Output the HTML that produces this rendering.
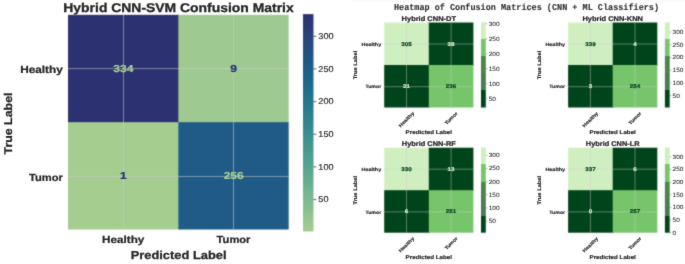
<!DOCTYPE html>
<html><head><meta charset="utf-8"><style>
html,body{margin:0;padding:0;background:#fff;width:685px;height:264px;overflow:hidden}
svg{display:block;will-change:transform;text-rendering:geometricPrecision;font-family:"Liberation Sans",sans-serif}
</style></head><body><div id="w">
<svg width="685" height="264" viewBox="0 0 685 264">
<defs><linearGradient id="crest" x1="0" y1="0" x2="0" y2="1"><stop offset="0.0000" stop-color="#2c3172"/><stop offset="0.0250" stop-color="#2c3574"/><stop offset="0.0500" stop-color="#2b3a76"/><stop offset="0.0750" stop-color="#2a3f78"/><stop offset="0.1000" stop-color="#28437b"/><stop offset="0.1250" stop-color="#27477d"/><stop offset="0.1500" stop-color="#254c80"/><stop offset="0.1750" stop-color="#235082"/><stop offset="0.2000" stop-color="#215584"/><stop offset="0.2250" stop-color="#1f5985"/><stop offset="0.2500" stop-color="#1e5d86"/><stop offset="0.2750" stop-color="#1d6288"/><stop offset="0.3000" stop-color="#1c6689"/><stop offset="0.3250" stop-color="#1d6a8a"/><stop offset="0.3500" stop-color="#1e6e8a"/><stop offset="0.3750" stop-color="#20728b"/><stop offset="0.4000" stop-color="#24768b"/><stop offset="0.4250" stop-color="#277a8c"/><stop offset="0.4500" stop-color="#2c7e8c"/><stop offset="0.4750" stop-color="#2f818d"/><stop offset="0.5000" stop-color="#33858d"/><stop offset="0.5250" stop-color="#38898e"/><stop offset="0.5500" stop-color="#3c8c8e"/><stop offset="0.5750" stop-color="#40918f"/><stop offset="0.6000" stop-color="#44948f"/><stop offset="0.6250" stop-color="#48988f"/><stop offset="0.6500" stop-color="#4d9c90"/><stop offset="0.6750" stop-color="#519f90"/><stop offset="0.7000" stop-color="#57a490"/><stop offset="0.7250" stop-color="#5ba790"/><stop offset="0.7500" stop-color="#61aa90"/><stop offset="0.7750" stop-color="#67ae90"/><stop offset="0.8000" stop-color="#6db290"/><stop offset="0.8250" stop-color="#74b690"/><stop offset="0.8500" stop-color="#7bb991"/><stop offset="0.8750" stop-color="#81bc91"/><stop offset="0.9000" stop-color="#89bf91"/><stop offset="0.9250" stop-color="#90c391"/><stop offset="0.9500" stop-color="#98c691"/><stop offset="0.9750" stop-color="#9eca91"/><stop offset="1.0000" stop-color="#a5cd90"/></linearGradient><linearGradient id="g1" x1="0" y1="0" x2="0" y2="1"><stop offset="0.0000" stop-color="#d0efc1"/><stop offset="0.2000" stop-color="#d0efc1"/><stop offset="0.2000" stop-color="#77c56b"/><stop offset="0.4000" stop-color="#77c56b"/><stop offset="0.4000" stop-color="#4c854c"/><stop offset="0.6000" stop-color="#4c854c"/><stop offset="0.6000" stop-color="#4a7a50"/><stop offset="0.8000" stop-color="#4a7a50"/><stop offset="0.8000" stop-color="#00441b"/><stop offset="1.0000" stop-color="#00441b"/></linearGradient><linearGradient id="g2" x1="0" y1="0" x2="0" y2="1"><stop offset="0.0000" stop-color="#d0efc1"/><stop offset="0.2000" stop-color="#d0efc1"/><stop offset="0.2000" stop-color="#77c56b"/><stop offset="0.4000" stop-color="#77c56b"/><stop offset="0.4000" stop-color="#4c854c"/><stop offset="0.6000" stop-color="#4c854c"/><stop offset="0.6000" stop-color="#4a7a50"/><stop offset="0.8000" stop-color="#4a7a50"/><stop offset="0.8000" stop-color="#00441b"/><stop offset="1.0000" stop-color="#00441b"/></linearGradient><linearGradient id="g3" x1="0" y1="0" x2="0" y2="1"><stop offset="0.0000" stop-color="#d0efc1"/><stop offset="0.2000" stop-color="#d0efc1"/><stop offset="0.2000" stop-color="#77c56b"/><stop offset="0.4000" stop-color="#77c56b"/><stop offset="0.4000" stop-color="#4c854c"/><stop offset="0.6000" stop-color="#4c854c"/><stop offset="0.6000" stop-color="#4a7a50"/><stop offset="0.8000" stop-color="#4a7a50"/><stop offset="0.8000" stop-color="#00441b"/><stop offset="1.0000" stop-color="#00441b"/></linearGradient><linearGradient id="g4" x1="0" y1="0" x2="0" y2="1"><stop offset="0.0000" stop-color="#d0efc1"/><stop offset="0.2000" stop-color="#d0efc1"/><stop offset="0.2000" stop-color="#77c56b"/><stop offset="0.4000" stop-color="#77c56b"/><stop offset="0.4000" stop-color="#4c854c"/><stop offset="0.6000" stop-color="#4c854c"/><stop offset="0.6000" stop-color="#4a7a50"/><stop offset="0.8000" stop-color="#4a7a50"/><stop offset="0.8000" stop-color="#00441b"/><stop offset="1.0000" stop-color="#00441b"/></linearGradient><filter id="soft" x="0" y="0" width="685" height="264" filterUnits="userSpaceOnUse" color-interpolation-filters="sRGB"><feConvolveMatrix order="3" kernelMatrix="1 4 1 4 16 4 1 4 1" divisor="36" edgeMode="duplicate"/></filter><filter id="soft2" x="0" y="0" width="685" height="264" filterUnits="userSpaceOnUse" color-interpolation-filters="sRGB"><feConvolveMatrix order="3" kernelMatrix="1 8 1 8 64 8 1 8 1" divisor="100" edgeMode="none" preserveAlpha="false"/></filter></defs>
<g filter="url(#soft)">
<rect x="0" y="0" width="685" height="264" fill="#ffffff"/>
<rect x="68.00" y="14.85" width="111.35" height="108.33" fill="#2c3172"/>
<rect x="178.35" y="14.85" width="110.35" height="108.33" fill="#9eca91"/>
<rect x="68.00" y="122.17" width="111.35" height="107.33" fill="#a5cd90"/>
<rect x="178.35" y="122.17" width="110.35" height="107.33" fill="#1f5b86"/>
<line x1="123.50" y1="14.85" x2="123.50" y2="229.50" stroke="#cccccc" stroke-width="1" stroke-opacity="0.55"/>
<line x1="233.50" y1="14.85" x2="233.50" y2="229.50" stroke="#cccccc" stroke-width="1" stroke-opacity="0.55"/>
<line x1="68.00" y1="68.60" x2="288.70" y2="68.60" stroke="#cccccc" stroke-width="1" stroke-opacity="0.55"/>
<line x1="68.00" y1="176.50" x2="288.70" y2="176.50" stroke="#cccccc" stroke-width="1" stroke-opacity="0.55"/>
<rect x="303.00" y="14.10" width="10.50" height="217.40" fill="url(#crest)"/>
<line x1="313.50" y1="199.51" x2="316.30" y2="199.51" stroke="#333333" stroke-width="0.8" stroke-opacity="1"/>
<line x1="313.50" y1="166.87" x2="316.30" y2="166.87" stroke="#333333" stroke-width="0.8" stroke-opacity="1"/>
<line x1="313.50" y1="134.22" x2="316.30" y2="134.22" stroke="#333333" stroke-width="0.8" stroke-opacity="1"/>
<line x1="313.50" y1="101.58" x2="316.30" y2="101.58" stroke="#333333" stroke-width="0.8" stroke-opacity="1"/>
<line x1="313.50" y1="68.94" x2="316.30" y2="68.94" stroke="#333333" stroke-width="0.8" stroke-opacity="1"/>
<line x1="313.50" y1="36.30" x2="316.30" y2="36.30" stroke="#333333" stroke-width="0.8" stroke-opacity="1"/>
<rect x="351.00" y="0.00" width="334.00" height="2.00" fill="#fafafa"/>
<rect x="384.20" y="22.50" width="45.60" height="43.50" fill="#d0efc1"/>
<rect x="428.80" y="22.50" width="44.60" height="43.50" fill="#00441b"/>
<rect x="384.20" y="65.00" width="45.60" height="42.50" fill="#00441b"/>
<rect x="428.80" y="65.00" width="44.60" height="42.50" fill="#77c56b"/>
<line x1="406.50" y1="22.50" x2="406.50" y2="107.50" stroke="#cccccc" stroke-width="1" stroke-opacity="0.45"/>
<line x1="451.10" y1="22.50" x2="451.10" y2="107.50" stroke="#cccccc" stroke-width="1" stroke-opacity="0.45"/>
<line x1="384.20" y1="44.00" x2="473.40" y2="44.00" stroke="#cccccc" stroke-width="1" stroke-opacity="0.45"/>
<line x1="384.20" y1="86.70" x2="473.40" y2="86.70" stroke="#cccccc" stroke-width="1" stroke-opacity="0.45"/>
<rect x="481.00" y="22.20" width="4.80" height="85.30" fill="url(#g1)"/>
<line x1="485.80" y1="98.79" x2="487.20" y2="98.79" stroke="#444444" stroke-width="0.5" stroke-opacity="1"/>
<line x1="485.80" y1="83.77" x2="487.20" y2="83.77" stroke="#444444" stroke-width="0.5" stroke-opacity="1"/>
<line x1="485.80" y1="68.75" x2="487.20" y2="68.75" stroke="#444444" stroke-width="0.5" stroke-opacity="1"/>
<line x1="485.80" y1="53.74" x2="487.20" y2="53.74" stroke="#444444" stroke-width="0.5" stroke-opacity="1"/>
<line x1="485.80" y1="38.72" x2="487.20" y2="38.72" stroke="#444444" stroke-width="0.5" stroke-opacity="1"/>
<line x1="485.80" y1="23.70" x2="487.20" y2="23.70" stroke="#444444" stroke-width="0.5" stroke-opacity="1"/>
<rect x="568.10" y="22.50" width="45.60" height="43.50" fill="#d0efc1"/>
<rect x="612.70" y="22.50" width="44.60" height="43.50" fill="#00441b"/>
<rect x="568.10" y="65.00" width="45.60" height="42.50" fill="#00441b"/>
<rect x="612.70" y="65.00" width="44.60" height="42.50" fill="#77c56b"/>
<line x1="590.40" y1="22.50" x2="590.40" y2="107.50" stroke="#cccccc" stroke-width="1" stroke-opacity="0.45"/>
<line x1="635.00" y1="22.50" x2="635.00" y2="107.50" stroke="#cccccc" stroke-width="1" stroke-opacity="0.45"/>
<line x1="568.10" y1="44.00" x2="657.30" y2="44.00" stroke="#cccccc" stroke-width="1" stroke-opacity="0.45"/>
<line x1="568.10" y1="86.70" x2="657.30" y2="86.70" stroke="#cccccc" stroke-width="1" stroke-opacity="0.45"/>
<rect x="664.90" y="22.20" width="4.80" height="85.30" fill="url(#g2)"/>
<line x1="669.70" y1="95.57" x2="671.10" y2="95.57" stroke="#444444" stroke-width="0.5" stroke-opacity="1"/>
<line x1="669.70" y1="82.87" x2="671.10" y2="82.87" stroke="#444444" stroke-width="0.5" stroke-opacity="1"/>
<line x1="669.70" y1="70.18" x2="671.10" y2="70.18" stroke="#444444" stroke-width="0.5" stroke-opacity="1"/>
<line x1="669.70" y1="57.49" x2="671.10" y2="57.49" stroke="#444444" stroke-width="0.5" stroke-opacity="1"/>
<line x1="669.70" y1="44.79" x2="671.10" y2="44.79" stroke="#444444" stroke-width="0.5" stroke-opacity="1"/>
<line x1="669.70" y1="32.10" x2="671.10" y2="32.10" stroke="#444444" stroke-width="0.5" stroke-opacity="1"/>
<rect x="384.20" y="147.70" width="45.60" height="43.50" fill="#d0efc1"/>
<rect x="428.80" y="147.70" width="44.60" height="43.50" fill="#00441b"/>
<rect x="384.20" y="190.20" width="45.60" height="42.50" fill="#00441b"/>
<rect x="428.80" y="190.20" width="44.60" height="42.50" fill="#77c56b"/>
<line x1="406.50" y1="147.70" x2="406.50" y2="232.70" stroke="#cccccc" stroke-width="1" stroke-opacity="0.45"/>
<line x1="451.10" y1="147.70" x2="451.10" y2="232.70" stroke="#cccccc" stroke-width="1" stroke-opacity="0.45"/>
<line x1="384.20" y1="169.20" x2="473.40" y2="169.20" stroke="#cccccc" stroke-width="1" stroke-opacity="0.45"/>
<line x1="384.20" y1="211.90" x2="473.40" y2="211.90" stroke="#cccccc" stroke-width="1" stroke-opacity="0.45"/>
<rect x="481.00" y="147.40" width="4.80" height="85.30" fill="url(#g3)"/>
<line x1="485.80" y1="221.12" x2="487.20" y2="221.12" stroke="#444444" stroke-width="0.5" stroke-opacity="1"/>
<line x1="485.80" y1="207.95" x2="487.20" y2="207.95" stroke="#444444" stroke-width="0.5" stroke-opacity="1"/>
<line x1="485.80" y1="194.79" x2="487.20" y2="194.79" stroke="#444444" stroke-width="0.5" stroke-opacity="1"/>
<line x1="485.80" y1="181.63" x2="487.20" y2="181.63" stroke="#444444" stroke-width="0.5" stroke-opacity="1"/>
<line x1="485.80" y1="168.46" x2="487.20" y2="168.46" stroke="#444444" stroke-width="0.5" stroke-opacity="1"/>
<line x1="485.80" y1="155.30" x2="487.20" y2="155.30" stroke="#444444" stroke-width="0.5" stroke-opacity="1"/>
<rect x="568.10" y="147.70" width="45.60" height="43.50" fill="#d0efc1"/>
<rect x="612.70" y="147.70" width="44.60" height="43.50" fill="#00441b"/>
<rect x="568.10" y="190.20" width="45.60" height="42.50" fill="#00441b"/>
<rect x="612.70" y="190.20" width="44.60" height="42.50" fill="#77c56b"/>
<line x1="590.40" y1="147.70" x2="590.40" y2="232.70" stroke="#cccccc" stroke-width="1" stroke-opacity="0.45"/>
<line x1="635.00" y1="147.70" x2="635.00" y2="232.70" stroke="#cccccc" stroke-width="1" stroke-opacity="0.45"/>
<line x1="568.10" y1="169.20" x2="657.30" y2="169.20" stroke="#cccccc" stroke-width="1" stroke-opacity="0.45"/>
<line x1="568.10" y1="211.90" x2="657.30" y2="211.90" stroke="#cccccc" stroke-width="1" stroke-opacity="0.45"/>
<rect x="664.90" y="147.40" width="4.80" height="85.30" fill="url(#g4)"/>
<line x1="669.70" y1="232.70" x2="671.10" y2="232.70" stroke="#444444" stroke-width="0.5" stroke-opacity="1"/>
<line x1="669.70" y1="220.04" x2="671.10" y2="220.04" stroke="#444444" stroke-width="0.5" stroke-opacity="1"/>
<line x1="669.70" y1="207.39" x2="671.10" y2="207.39" stroke="#444444" stroke-width="0.5" stroke-opacity="1"/>
<line x1="669.70" y1="194.73" x2="671.10" y2="194.73" stroke="#444444" stroke-width="0.5" stroke-opacity="1"/>
<line x1="669.70" y1="182.08" x2="671.10" y2="182.08" stroke="#444444" stroke-width="0.5" stroke-opacity="1"/>
<line x1="669.70" y1="169.42" x2="671.10" y2="169.42" stroke="#444444" stroke-width="0.5" stroke-opacity="1"/>
<line x1="669.70" y1="156.77" x2="671.10" y2="156.77" stroke="#444444" stroke-width="0.5" stroke-opacity="1"/>
</g>
<g filter="url(#soft2)">
<text x="123.38" y="72.11" font-size="10.18" font-weight="bold" text-anchor="middle" fill="#a5cd90" stroke="#a5cd90" stroke-width="0.24" textLength="20.04" lengthAdjust="spacingAndGlyphs">334</text>
<text x="233.72" y="72.11" font-size="10.18" font-weight="bold" text-anchor="middle" fill="#2c3172" stroke="#2c3172" stroke-width="0.24" textLength="6.68" lengthAdjust="spacingAndGlyphs">9</text>
<text x="123.38" y="179.44" font-size="10.18" font-weight="bold" text-anchor="middle" fill="#2c3172" stroke="#2c3172" stroke-width="0.24" textLength="6.68" lengthAdjust="spacingAndGlyphs">1</text>
<text x="233.72" y="179.44" font-size="10.18" font-weight="bold" text-anchor="middle" fill="#a5cd90" stroke="#a5cd90" stroke-width="0.24" textLength="20.04" lengthAdjust="spacingAndGlyphs">256</text>
<text x="178.50" y="12.20" font-size="12.61" font-weight="bold" text-anchor="middle" fill="#262626" stroke="#262626" stroke-width="0.30" textLength="230.37" lengthAdjust="spacingAndGlyphs">Hybrid CNN-SVM Confusion Matrix</text>
<text x="62.80" y="72.80" font-size="10.34" font-weight="bold" text-anchor="end" fill="#262626" stroke="#262626" stroke-width="0.24" textLength="42.65" lengthAdjust="spacingAndGlyphs">Healthy</text>
<text x="62.90" y="180.50" font-size="10.23" font-weight="bold" text-anchor="end" fill="#262626" stroke="#262626" stroke-width="0.24" textLength="33.84" lengthAdjust="spacingAndGlyphs">Tumor</text>
<text x="123.17" y="242.50" font-size="10.23" font-weight="bold" text-anchor="middle" fill="#262626" stroke="#262626" stroke-width="0.24" textLength="42.21" lengthAdjust="spacingAndGlyphs">Healthy</text>
<text x="233.52" y="242.50" font-size="10.23" font-weight="bold" text-anchor="middle" fill="#262626" stroke="#262626" stroke-width="0.24" textLength="33.84" lengthAdjust="spacingAndGlyphs">Tumor</text>
<text x="178.60" y="258.50" font-size="11.50" font-weight="bold" text-anchor="middle" fill="#262626" stroke="#262626" stroke-width="0.27" textLength="95.75" lengthAdjust="spacingAndGlyphs">Predicted Label</text>
<text x="11.50" y="123.50" font-size="11.24" font-weight="bold" text-anchor="middle" fill="#262626" stroke="#262626" stroke-width="0.27" textLength="62.04" lengthAdjust="spacingAndGlyphs" transform="rotate(-90 11.50 123.50)">True Label</text>
<text x="318.30" y="202.41" font-size="8.48" font-weight="normal" text-anchor="start" fill="#262626" stroke="#262626" stroke-width="0.15" textLength="10.18" lengthAdjust="spacingAndGlyphs">50</text>
<text x="318.30" y="169.77" font-size="8.48" font-weight="normal" text-anchor="start" fill="#262626" stroke="#262626" stroke-width="0.15" textLength="15.27" lengthAdjust="spacingAndGlyphs">100</text>
<text x="318.30" y="137.12" font-size="8.48" font-weight="normal" text-anchor="start" fill="#262626" stroke="#262626" stroke-width="0.15" textLength="15.27" lengthAdjust="spacingAndGlyphs">150</text>
<text x="318.30" y="104.48" font-size="8.48" font-weight="normal" text-anchor="start" fill="#262626" stroke="#262626" stroke-width="0.15" textLength="15.27" lengthAdjust="spacingAndGlyphs">200</text>
<text x="318.30" y="71.84" font-size="8.48" font-weight="normal" text-anchor="start" fill="#262626" stroke="#262626" stroke-width="0.15" textLength="15.27" lengthAdjust="spacingAndGlyphs">250</text>
<text x="318.30" y="39.20" font-size="8.48" font-weight="normal" text-anchor="start" fill="#262626" stroke="#262626" stroke-width="0.15" textLength="15.27" lengthAdjust="spacingAndGlyphs">300</text>
<text x="526.50" y="9.80" font-family="Liberation Mono" font-size="9.01" font-weight="bold" text-anchor="middle" fill="#333333" stroke="#333333" stroke-width="0.12" textLength="265.10" lengthAdjust="spacingAndGlyphs">Heatmap of Confusion Matrices (CNN + ML Classifiers)</text>
<text x="406.50" y="45.65" font-size="5.30" font-weight="bold" text-anchor="middle" fill="#00441b" stroke="#00441b" stroke-width="0.18" textLength="10.44" lengthAdjust="spacingAndGlyphs">305</text>
<text x="451.10" y="45.65" font-size="5.30" font-weight="bold" text-anchor="middle" fill="#d0efc1" stroke="#d0efc1" stroke-width="0.18" textLength="6.96" lengthAdjust="spacingAndGlyphs">38</text>
<text x="406.50" y="88.15" font-size="5.30" font-weight="bold" text-anchor="middle" fill="#d0efc1" stroke="#d0efc1" stroke-width="0.18" textLength="6.96" lengthAdjust="spacingAndGlyphs">21</text>
<text x="451.10" y="88.15" font-size="5.30" font-weight="bold" text-anchor="middle" fill="#00441b" stroke="#00441b" stroke-width="0.18" textLength="10.44" lengthAdjust="spacingAndGlyphs">236</text>
<text x="428.80" y="20.70" font-size="6.84" font-weight="bold" text-anchor="middle" fill="#262626" stroke="#262626" stroke-width="0.23" textLength="54.43" lengthAdjust="spacingAndGlyphs">Hybrid CNN-DT</text>
<text x="381.20" y="45.95" font-size="4.77" font-weight="bold" text-anchor="end" fill="#262626" stroke="#262626" stroke-width="0.16" textLength="19.69" lengthAdjust="spacingAndGlyphs">Healthy</text>
<text x="381.20" y="88.45" font-size="4.77" font-weight="bold" text-anchor="end" fill="#262626" stroke="#262626" stroke-width="0.16" textLength="15.78" lengthAdjust="spacingAndGlyphs">Tumor</text>
<text x="357.00" y="65.00" font-size="5.19" font-weight="bold" text-anchor="middle" fill="#262626" stroke="#262626" stroke-width="0.17" textLength="28.68" lengthAdjust="spacingAndGlyphs" transform="rotate(-90 357.00 65.00)">True Label</text>
<text x="428.80" y="134.00" font-size="5.57" font-weight="bold" text-anchor="middle" fill="#262626" stroke="#262626" stroke-width="0.18" textLength="46.33" lengthAdjust="spacingAndGlyphs">Predicted Label</text>
<text x="407.30" y="120.33" font-size="4.77" font-weight="bold" text-anchor="middle" fill="#262626" stroke="#262626" stroke-width="0.16" textLength="19.69" lengthAdjust="spacingAndGlyphs" transform="rotate(-45 407.30 120.33)" dominant-baseline="central">Healthy</text>
<text x="451.90" y="118.95" font-size="4.77" font-weight="bold" text-anchor="middle" fill="#262626" stroke="#262626" stroke-width="0.16" textLength="15.78" lengthAdjust="spacingAndGlyphs" transform="rotate(-45 451.90 118.95)" dominant-baseline="central">Tumor</text>
<text x="488.70" y="100.79" font-size="6.04" font-weight="normal" text-anchor="start" fill="#333333" stroke="#333333" stroke-width="0.08" textLength="7.25" lengthAdjust="spacingAndGlyphs">50</text>
<text x="488.70" y="85.77" font-size="6.04" font-weight="normal" text-anchor="start" fill="#333333" stroke="#333333" stroke-width="0.08" textLength="10.88" lengthAdjust="spacingAndGlyphs">100</text>
<text x="488.70" y="70.75" font-size="6.04" font-weight="normal" text-anchor="start" fill="#333333" stroke="#333333" stroke-width="0.08" textLength="10.88" lengthAdjust="spacingAndGlyphs">150</text>
<text x="488.70" y="55.74" font-size="6.04" font-weight="normal" text-anchor="start" fill="#333333" stroke="#333333" stroke-width="0.08" textLength="10.88" lengthAdjust="spacingAndGlyphs">200</text>
<text x="488.70" y="40.72" font-size="6.04" font-weight="normal" text-anchor="start" fill="#333333" stroke="#333333" stroke-width="0.08" textLength="10.88" lengthAdjust="spacingAndGlyphs">250</text>
<text x="488.70" y="25.70" font-size="6.04" font-weight="normal" text-anchor="start" fill="#333333" stroke="#333333" stroke-width="0.08" textLength="10.88" lengthAdjust="spacingAndGlyphs">300</text>
<text x="590.40" y="45.65" font-size="5.30" font-weight="bold" text-anchor="middle" fill="#00441b" stroke="#00441b" stroke-width="0.18" textLength="10.44" lengthAdjust="spacingAndGlyphs">339</text>
<text x="635.00" y="45.65" font-size="5.30" font-weight="bold" text-anchor="middle" fill="#d0efc1" stroke="#d0efc1" stroke-width="0.18" textLength="3.48" lengthAdjust="spacingAndGlyphs">4</text>
<text x="590.40" y="88.15" font-size="5.30" font-weight="bold" text-anchor="middle" fill="#d0efc1" stroke="#d0efc1" stroke-width="0.18" textLength="3.48" lengthAdjust="spacingAndGlyphs">3</text>
<text x="635.00" y="88.15" font-size="5.30" font-weight="bold" text-anchor="middle" fill="#00441b" stroke="#00441b" stroke-width="0.18" textLength="10.44" lengthAdjust="spacingAndGlyphs">254</text>
<text x="612.70" y="20.70" font-size="6.84" font-weight="bold" text-anchor="middle" fill="#262626" stroke="#262626" stroke-width="0.23" textLength="60.48" lengthAdjust="spacingAndGlyphs">Hybrid CNN-KNN</text>
<text x="565.10" y="45.95" font-size="4.77" font-weight="bold" text-anchor="end" fill="#262626" stroke="#262626" stroke-width="0.16" textLength="19.69" lengthAdjust="spacingAndGlyphs">Healthy</text>
<text x="565.10" y="88.45" font-size="4.77" font-weight="bold" text-anchor="end" fill="#262626" stroke="#262626" stroke-width="0.16" textLength="15.78" lengthAdjust="spacingAndGlyphs">Tumor</text>
<text x="540.90" y="65.00" font-size="5.19" font-weight="bold" text-anchor="middle" fill="#262626" stroke="#262626" stroke-width="0.17" textLength="28.68" lengthAdjust="spacingAndGlyphs" transform="rotate(-90 540.90 65.00)">True Label</text>
<text x="612.70" y="134.00" font-size="5.57" font-weight="bold" text-anchor="middle" fill="#262626" stroke="#262626" stroke-width="0.18" textLength="46.33" lengthAdjust="spacingAndGlyphs">Predicted Label</text>
<text x="591.20" y="120.33" font-size="4.77" font-weight="bold" text-anchor="middle" fill="#262626" stroke="#262626" stroke-width="0.16" textLength="19.69" lengthAdjust="spacingAndGlyphs" transform="rotate(-45 591.20 120.33)" dominant-baseline="central">Healthy</text>
<text x="635.80" y="118.95" font-size="4.77" font-weight="bold" text-anchor="middle" fill="#262626" stroke="#262626" stroke-width="0.16" textLength="15.78" lengthAdjust="spacingAndGlyphs" transform="rotate(-45 635.80 118.95)" dominant-baseline="central">Tumor</text>
<text x="672.60" y="97.57" font-size="6.04" font-weight="normal" text-anchor="start" fill="#333333" stroke="#333333" stroke-width="0.08" textLength="7.25" lengthAdjust="spacingAndGlyphs">50</text>
<text x="672.60" y="84.87" font-size="6.04" font-weight="normal" text-anchor="start" fill="#333333" stroke="#333333" stroke-width="0.08" textLength="10.88" lengthAdjust="spacingAndGlyphs">100</text>
<text x="672.60" y="72.18" font-size="6.04" font-weight="normal" text-anchor="start" fill="#333333" stroke="#333333" stroke-width="0.08" textLength="10.88" lengthAdjust="spacingAndGlyphs">150</text>
<text x="672.60" y="59.49" font-size="6.04" font-weight="normal" text-anchor="start" fill="#333333" stroke="#333333" stroke-width="0.08" textLength="10.88" lengthAdjust="spacingAndGlyphs">200</text>
<text x="672.60" y="46.79" font-size="6.04" font-weight="normal" text-anchor="start" fill="#333333" stroke="#333333" stroke-width="0.08" textLength="10.88" lengthAdjust="spacingAndGlyphs">250</text>
<text x="672.60" y="34.10" font-size="6.04" font-weight="normal" text-anchor="start" fill="#333333" stroke="#333333" stroke-width="0.08" textLength="10.88" lengthAdjust="spacingAndGlyphs">300</text>
<text x="406.50" y="170.85" font-size="5.30" font-weight="bold" text-anchor="middle" fill="#00441b" stroke="#00441b" stroke-width="0.18" textLength="10.44" lengthAdjust="spacingAndGlyphs">330</text>
<text x="451.10" y="170.85" font-size="5.30" font-weight="bold" text-anchor="middle" fill="#d0efc1" stroke="#d0efc1" stroke-width="0.18" textLength="6.96" lengthAdjust="spacingAndGlyphs">13</text>
<text x="406.50" y="213.35" font-size="5.30" font-weight="bold" text-anchor="middle" fill="#d0efc1" stroke="#d0efc1" stroke-width="0.18" textLength="3.48" lengthAdjust="spacingAndGlyphs">6</text>
<text x="451.10" y="213.35" font-size="5.30" font-weight="bold" text-anchor="middle" fill="#00441b" stroke="#00441b" stroke-width="0.18" textLength="10.44" lengthAdjust="spacingAndGlyphs">251</text>
<text x="428.80" y="145.90" font-size="6.84" font-weight="bold" text-anchor="middle" fill="#262626" stroke="#262626" stroke-width="0.23" textLength="54.05" lengthAdjust="spacingAndGlyphs">Hybrid CNN-RF</text>
<text x="381.20" y="171.15" font-size="4.77" font-weight="bold" text-anchor="end" fill="#262626" stroke="#262626" stroke-width="0.16" textLength="19.69" lengthAdjust="spacingAndGlyphs">Healthy</text>
<text x="381.20" y="213.65" font-size="4.77" font-weight="bold" text-anchor="end" fill="#262626" stroke="#262626" stroke-width="0.16" textLength="15.78" lengthAdjust="spacingAndGlyphs">Tumor</text>
<text x="357.00" y="190.20" font-size="5.19" font-weight="bold" text-anchor="middle" fill="#262626" stroke="#262626" stroke-width="0.17" textLength="28.68" lengthAdjust="spacingAndGlyphs" transform="rotate(-90 357.00 190.20)">True Label</text>
<text x="428.80" y="259.20" font-size="5.57" font-weight="bold" text-anchor="middle" fill="#262626" stroke="#262626" stroke-width="0.18" textLength="46.33" lengthAdjust="spacingAndGlyphs">Predicted Label</text>
<text x="407.30" y="245.53" font-size="4.77" font-weight="bold" text-anchor="middle" fill="#262626" stroke="#262626" stroke-width="0.16" textLength="19.69" lengthAdjust="spacingAndGlyphs" transform="rotate(-45 407.30 245.53)" dominant-baseline="central">Healthy</text>
<text x="451.90" y="244.15" font-size="4.77" font-weight="bold" text-anchor="middle" fill="#262626" stroke="#262626" stroke-width="0.16" textLength="15.78" lengthAdjust="spacingAndGlyphs" transform="rotate(-45 451.90 244.15)" dominant-baseline="central">Tumor</text>
<text x="488.70" y="223.12" font-size="6.04" font-weight="normal" text-anchor="start" fill="#333333" stroke="#333333" stroke-width="0.08" textLength="7.25" lengthAdjust="spacingAndGlyphs">50</text>
<text x="488.70" y="209.95" font-size="6.04" font-weight="normal" text-anchor="start" fill="#333333" stroke="#333333" stroke-width="0.08" textLength="10.88" lengthAdjust="spacingAndGlyphs">100</text>
<text x="488.70" y="196.79" font-size="6.04" font-weight="normal" text-anchor="start" fill="#333333" stroke="#333333" stroke-width="0.08" textLength="10.88" lengthAdjust="spacingAndGlyphs">150</text>
<text x="488.70" y="183.63" font-size="6.04" font-weight="normal" text-anchor="start" fill="#333333" stroke="#333333" stroke-width="0.08" textLength="10.88" lengthAdjust="spacingAndGlyphs">200</text>
<text x="488.70" y="170.46" font-size="6.04" font-weight="normal" text-anchor="start" fill="#333333" stroke="#333333" stroke-width="0.08" textLength="10.88" lengthAdjust="spacingAndGlyphs">250</text>
<text x="488.70" y="157.30" font-size="6.04" font-weight="normal" text-anchor="start" fill="#333333" stroke="#333333" stroke-width="0.08" textLength="10.88" lengthAdjust="spacingAndGlyphs">300</text>
<text x="590.40" y="170.85" font-size="5.30" font-weight="bold" text-anchor="middle" fill="#00441b" stroke="#00441b" stroke-width="0.18" textLength="10.44" lengthAdjust="spacingAndGlyphs">337</text>
<text x="635.00" y="170.85" font-size="5.30" font-weight="bold" text-anchor="middle" fill="#d0efc1" stroke="#d0efc1" stroke-width="0.18" textLength="3.48" lengthAdjust="spacingAndGlyphs">6</text>
<text x="590.40" y="213.35" font-size="5.30" font-weight="bold" text-anchor="middle" fill="#d0efc1" stroke="#d0efc1" stroke-width="0.18" textLength="3.48" lengthAdjust="spacingAndGlyphs">0</text>
<text x="635.00" y="213.35" font-size="5.30" font-weight="bold" text-anchor="middle" fill="#00441b" stroke="#00441b" stroke-width="0.18" textLength="10.44" lengthAdjust="spacingAndGlyphs">257</text>
<text x="612.70" y="145.90" font-size="6.84" font-weight="bold" text-anchor="middle" fill="#262626" stroke="#262626" stroke-width="0.23" textLength="53.76" lengthAdjust="spacingAndGlyphs">Hybrid CNN-LR</text>
<text x="565.10" y="171.15" font-size="4.77" font-weight="bold" text-anchor="end" fill="#262626" stroke="#262626" stroke-width="0.16" textLength="19.69" lengthAdjust="spacingAndGlyphs">Healthy</text>
<text x="565.10" y="213.65" font-size="4.77" font-weight="bold" text-anchor="end" fill="#262626" stroke="#262626" stroke-width="0.16" textLength="15.78" lengthAdjust="spacingAndGlyphs">Tumor</text>
<text x="540.90" y="190.20" font-size="5.19" font-weight="bold" text-anchor="middle" fill="#262626" stroke="#262626" stroke-width="0.17" textLength="28.68" lengthAdjust="spacingAndGlyphs" transform="rotate(-90 540.90 190.20)">True Label</text>
<text x="612.70" y="259.20" font-size="5.57" font-weight="bold" text-anchor="middle" fill="#262626" stroke="#262626" stroke-width="0.18" textLength="46.33" lengthAdjust="spacingAndGlyphs">Predicted Label</text>
<text x="591.20" y="245.53" font-size="4.77" font-weight="bold" text-anchor="middle" fill="#262626" stroke="#262626" stroke-width="0.16" textLength="19.69" lengthAdjust="spacingAndGlyphs" transform="rotate(-45 591.20 245.53)" dominant-baseline="central">Healthy</text>
<text x="635.80" y="244.15" font-size="4.77" font-weight="bold" text-anchor="middle" fill="#262626" stroke="#262626" stroke-width="0.16" textLength="15.78" lengthAdjust="spacingAndGlyphs" transform="rotate(-45 635.80 244.15)" dominant-baseline="central">Tumor</text>
<text x="672.60" y="234.70" font-size="6.04" font-weight="normal" text-anchor="start" fill="#333333" stroke="#333333" stroke-width="0.08" textLength="3.63" lengthAdjust="spacingAndGlyphs">0</text>
<text x="672.60" y="222.04" font-size="6.04" font-weight="normal" text-anchor="start" fill="#333333" stroke="#333333" stroke-width="0.08" textLength="7.25" lengthAdjust="spacingAndGlyphs">50</text>
<text x="672.60" y="209.39" font-size="6.04" font-weight="normal" text-anchor="start" fill="#333333" stroke="#333333" stroke-width="0.08" textLength="10.88" lengthAdjust="spacingAndGlyphs">100</text>
<text x="672.60" y="196.73" font-size="6.04" font-weight="normal" text-anchor="start" fill="#333333" stroke="#333333" stroke-width="0.08" textLength="10.88" lengthAdjust="spacingAndGlyphs">150</text>
<text x="672.60" y="184.08" font-size="6.04" font-weight="normal" text-anchor="start" fill="#333333" stroke="#333333" stroke-width="0.08" textLength="10.88" lengthAdjust="spacingAndGlyphs">200</text>
<text x="672.60" y="171.42" font-size="6.04" font-weight="normal" text-anchor="start" fill="#333333" stroke="#333333" stroke-width="0.08" textLength="10.88" lengthAdjust="spacingAndGlyphs">250</text>
<text x="672.60" y="158.77" font-size="6.04" font-weight="normal" text-anchor="start" fill="#333333" stroke="#333333" stroke-width="0.08" textLength="10.88" lengthAdjust="spacingAndGlyphs">300</text>
</g>
</svg></div>
</body></html>
